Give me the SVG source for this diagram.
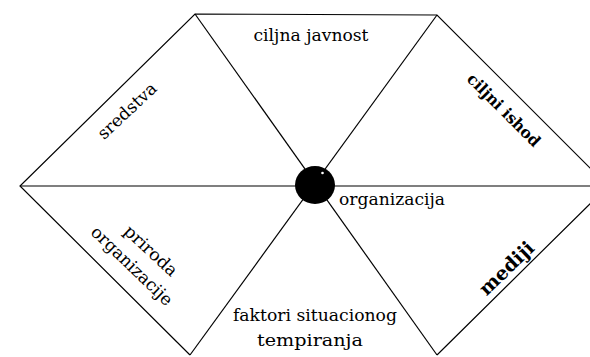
<svg xmlns="http://www.w3.org/2000/svg" width="590" height="357" viewBox="0 0 590 357">
<style>
.ln{stroke:#000;stroke-width:1.2;fill:none}
.t{font-family:"DejaVu Serif","Liberation Serif",serif;font-size:17px;fill:#000;text-anchor:middle}
.b{font-weight:bold}
</style>
<rect width="590" height="357" fill="#fff"/>
<g id="connectors">
<line class="ln" x1="20" y1="186" x2="590" y2="186"/>
<line class="ln" x1="195" y1="14" x2="437" y2="355"/>
<line class="ln" x1="437" y1="15" x2="190" y2="355"/>
<polyline class="ln" points="190,355 20,186 195,14 437,15 608,186 437,355"/>
</g>
<g id="center">
<ellipse cx="315" cy="185" rx="20" ry="19" fill="#000"/>
<circle cx="322.5" cy="173" r="1.3" fill="#fff"/>
</g>
<g id="ciljna-javnost"><text class="t" x="311" y="41" textLength="115" lengthAdjust="spacingAndGlyphs">ciljna javnost</text></g>
<g id="sredstva"><text class="t" transform="translate(131,115) rotate(-43)" textLength="74" lengthAdjust="spacingAndGlyphs">sredstva</text></g>
<g id="ciljni-ishod"><text class="t b" style="font-size:16px" transform="translate(500,114) rotate(45)" textLength="96" lengthAdjust="spacingAndGlyphs">ciljni ishod</text></g>
<g id="organizacija"><text class="t" x="392" y="205" textLength="106" lengthAdjust="spacingAndGlyphs">organizacija</text></g>
<g id="mediji"><text class="t b" style="font-size:19px" transform="translate(511,273) rotate(-44)" textLength="68" lengthAdjust="spacingAndGlyphs">mediji</text></g>
<g id="priroda-organizacije">
<text class="t" transform="translate(147,255) rotate(43)" textLength="66" lengthAdjust="spacingAndGlyphs">priroda</text>
<text class="t" transform="translate(128,270) rotate(44)" textLength="106" lengthAdjust="spacingAndGlyphs">organizacije</text>
</g>
<g id="faktori">
<text class="t" x="315" y="321" textLength="164" lengthAdjust="spacingAndGlyphs">faktori situacionog</text>
<text class="t" x="310" y="346" textLength="106" lengthAdjust="spacingAndGlyphs">tempiranja</text>
</g>
</svg>
